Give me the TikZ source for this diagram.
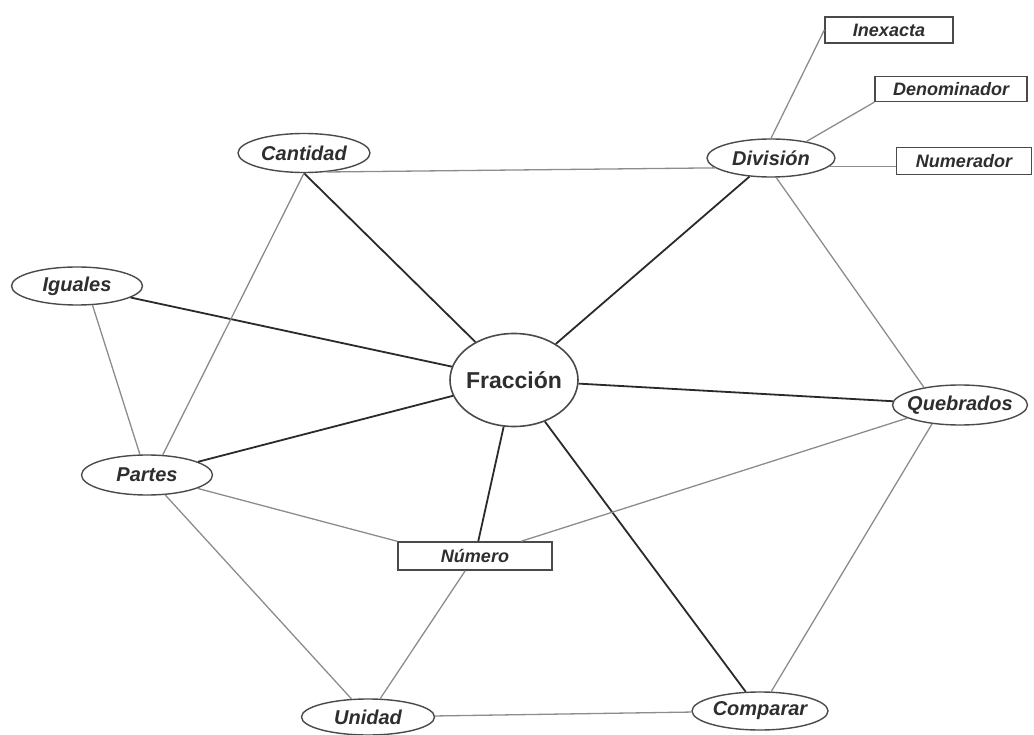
\documentclass[tikz,border=0pt]{standalone}
\usepackage{fontspec}
\setmainfont{Liberation Sans}
\usetikzlibrary{shapes.geometric}
\definecolor{txt}{HTML}{2E2E2E}
\definecolor{rim}{HTML}{4A4A4A}
\definecolor{spk}{HTML}{2A2A2A}
\definecolor{thin}{HTML}{8C8C8C}
\tikzset{
  ov/.style n args={2}{ellipse, draw=rim, line width=1.4pt, fill=white,
    minimum width=#1, minimum height=#2, inner sep=0pt, text=txt,
    font=\fontsize{20}{20}\selectfont\bfseries\itshape},
  bx/.style n args={2}{rectangle, draw=rim, line width=1.4pt, fill=white,
    minimum width=#1, minimum height=#2, inner sep=0pt, text=txt,
    font=\fontsize{18}{18}\selectfont\bfseries\itshape},
  spoke/.style={draw=spk, line width=1.8pt},
  link/.style={draw=thin, line width=1.3pt}
}
\newcommand{\zw}[1]{\makebox[0pt]{#1}}
\begin{document}
\begin{tikzpicture}[x=1pt,y=-1pt]
\useasboundingbox (0,0) rectangle (1034,735);
% links first (nodes drawn over)
\node[ov={132pt}{39pt}] (Cantidad) at (304,153) {\zw{Cantidad}};
\node[ov={128pt}{38pt}] (Division) at (771,158) {\zw{División}};
\node[bx={128pt}{26pt}] (Inexacta) at (889,30) {Inexacta};
\node[bx={152pt}{25pt}] (Denominador) at (951,89) {Denominador};
\node[bx={135pt}{27pt}] (Numerador) at (964,161) {Numerador};
\node[ov={131pt}{38pt}] (Iguales) at (77,286) {\zw{Iguales}};
\node[ellipse, draw=rim, line width=1.6pt, fill=white, minimum width=128pt,
      minimum height=93pt, inner sep=0pt, text=txt,
      font=\fontsize{23}{23}\selectfont\bfseries] (Fraccion) at (514,380) {\zw{Fracción}};
\node[ov={131pt}{40pt}] (Partes) at (147,475) {\zw{Partes}};
\node[bx={154pt}{28pt}] (Numero) at (475,556) {Número};
\node[ov={135pt}{40pt}] (Quebrados) at (960,405) {\zw{Quebrados}};
\node[ov={133pt}{36pt}] (Unidad) at (368,717) {\zw{Unidad}};
\node[ov={136pt}{38pt}] (Comparar) at (760,711) {\zw{Comparar}};

% spokes from Fracción
\draw[spoke] (Fraccion) -- (Cantidad.south);
\draw[spoke] (Fraccion) -- (Division);
\draw[spoke] (Fraccion) -- (Iguales);
\draw[spoke] (Fraccion) -- (Partes);
\draw[spoke] (Fraccion) -- (Numero);
\draw[spoke] (Fraccion) -- (Comparar);
\draw[spoke] (Fraccion) -- (Quebrados);

% thin links
\draw[link] (Cantidad.-40) -- (Division.190);
\draw[link] (Cantidad.south) -- (Partes.52);
\draw[link] (Iguales.-51) -- (Partes.109);
\draw[link] (Division.north) -- (Inexacta.west);
\draw[link] (Division.25) -- (Denominador.south west);
\draw[link] (Division.-8) -- (Division.-8 -| Numerador.west);
\draw[link] (Division.-75) -- (Quebrados.154);
\draw[link] (Quebrados.194) -- (Numero);
\draw[link] (Quebrados.214) -- (Comparar.60);
\draw[link] (Partes) -- (Numero.north west);
\draw[link] (Partes) -- (Unidad);
\draw[link] (Numero) -- (Unidad);
\draw[link] (Unidad) -- (Comparar);
\end{tikzpicture}
\end{document}
